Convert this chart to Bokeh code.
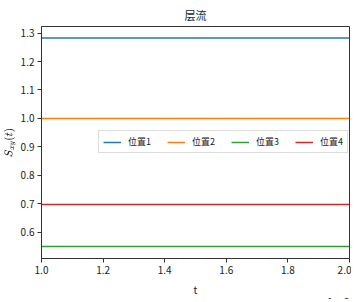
from bokeh.plotting import figure
from bokeh.models import Legend, LegendItem, Range1d, FixedTicker, CustomJSTickFormatter, Title
from bokeh.embed import file_html
from bokeh.resources import INLINE

t = [0.010, 0.020]
series_names = ["位置1", "位置2", "位置3", "位置4"]
s1 = [1.283, 1.283]
s2 = [1.000, 1.000]
s3 = [0.550, 0.550]
s4 = [0.698, 0.698]
colors = ["#1f77b4", "#ff7f0e", "#2ca02c", "#d62728"]
x_ticks = [0.010, 0.012, 0.014, 0.016, 0.018, 0.020]
y_ticks = [0.6, 0.7, 0.8, 0.9, 1.0, 1.1, 1.2, 1.3]

FONT = "Noto Sans CJK SC"

p = figure(frame_width=308, frame_height=232, output_backend="svg", toolbar_location=None,
           x_range=Range1d(0.010, 0.020), y_range=Range1d(0.508, 1.323),
           title="层流", min_border_left=0, min_border_right=2, min_border_top=0, min_border_bottom=0)
p.title.align = "center"
p.title.text_font = FONT
p.title.text_font_style = "normal"
p.title.text_font_size = "11px"
p.title.text_color = "#222222"
p.title.standoff = 8

p.xgrid.visible = False
p.ygrid.visible = False
p.outline_line_color = "#333333"
p.outline_line_width = 1

for ax in (p.xaxis[0], p.yaxis[0]):
    ax.major_tick_out = 4
    ax.major_tick_in = 0
    ax.minor_tick_line_color = None
    ax.axis_line_color = "#333333"
    ax.major_tick_line_color = "#333333"
    ax.major_label_text_font = FONT
    ax.major_label_text_font_size = "10px"
    ax.major_label_text_color = "#222222"
    ax.axis_label_text_font = FONT
    ax.axis_label_text_font_size = "10px"
    ax.axis_label_text_font_style = "normal"
    ax.axis_label_text_color = "#222222"

p.xaxis.ticker = FixedTicker(ticks=x_ticks)
p.xaxis.formatter = CustomJSTickFormatter(code="return (tick*100).toFixed(1);")
p.xaxis.axis_label = "t"
p.xaxis.axis_label_standoff = 5
p.xaxis.major_label_standoff = 3

p.yaxis.ticker = FixedTicker(ticks=y_ticks)
p.yaxis.formatter = CustomJSTickFormatter(code="return tick.toFixed(1);")
p.yaxis.axis_label = "$$S_{xy}(t)$$"
p.yaxis.axis_label_text_font_size = "8px"
p.yaxis.axis_label_standoff = 2
p.yaxis.major_label_standoff = 3

renderers = []
for ys, c in zip([s1, s2, s3, s4], colors):
    r = p.line(t, ys, line_color=c, line_width=1.5)
    renderers.append(r)

legend = Legend(items=[LegendItem(label=n, renderers=[r]) for n, r in zip(series_names, renderers)],
                orientation="horizontal", location=(57, 105))
legend.label_text_font = FONT
legend.label_text_font_size = "9px"
legend.label_text_color = "#222222"
legend.glyph_width = 18
legend.glyph_height = 8
legend.spacing = 16
legend.padding = 4
legend.margin = 0
legend.label_standoff = 7
legend.label_height = 8
legend.border_line_color = "#dddddd"
legend.border_line_alpha = 1
legend.background_fill_alpha = 0.9
p.add_layout(legend, "center")

exp_title = Title(text="1e\u22122", align="right", text_font=FONT, text_font_size="10px",
                  text_font_style="normal", text_color="#222222", standoff=-13)
p.add_layout(exp_title, "below")

open("out.html", "w").write(file_html(p, INLINE))
